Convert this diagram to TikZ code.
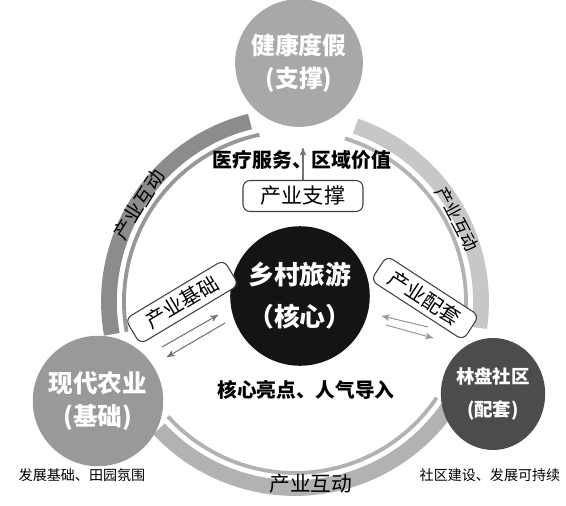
\documentclass[tikz,border=0pt]{standalone}
\usepackage{fontspec}
\setmainfont{Noto Sans CJK SC}
\usepackage{tikz}
\usetikzlibrary{calc,arrows,shapes.geometric}

\definecolor{healthgray}{gray}{0.66}
\definecolor{farmgray}{gray}{0.60}
\definecolor{forestgray}{gray}{0.30}
\definecolor{leftband}{gray}{0.55}
\definecolor{rightband}{gray}{0.78}
\definecolor{bottomband}{gray}{0.70}

\begin{document}
\begin{tikzpicture}[
        x=0.02cm, y=0.02cm,
        band/.style={line width=9pt},
        ring line/.style={line width=2.2pt},
        flow/.style={->, >=stealth', color=black!55, line width=0.6pt},
        hub/.style={circle, fill=black!92, text=white, minimum size=2.36cm,
          align=center, font={\fontsize{14.7}{24}\selectfont\bfseries}},
        pole/.style={circle, text=white, align=center,
          font={\fontsize{13.6}{18.7}\selectfont\bfseries}},
        tagbox/.style={draw=black!75, fill=white, rounded corners=4pt,
          line width=0.6pt, inner sep=3pt, font={\fontsize{12}{14}\selectfont}},
        band label/.style={font={\fontsize{11}{13}\selectfont}},
        bold label/.style={font={\fontsize{11.3}{13}\selectfont\bfseries}},
        note/.style={font={\fontsize{8}{10}\selectfont}},
        every node/.style={color=black,}
      ]
      \useasboundingbox (0,0) rectangle (566,505);
      \coordinate (ring) at (295,203);

      \draw[band, leftband] ([shift={(ring)}]104:186) arc (104:190:186);
      \draw[ring line, leftband!90] ([shift={(ring)}]102:171) arc (102:190:171);
      \draw[band, rightband] ([shift={(ring)}]71:186) arc (71:-8:186);
      \draw[ring line, rightband!90!black] ([shift={(ring)}]73:171) arc (73:-10:171);
      \draw[band, bottomband] ([shift={(ring)}]223:186) arc (223:325:186);
      \draw[ring line, bottomband] ([shift={(ring)}]222:171) arc (222:326:171);

      \node[band label, rotate=58] (linkleft) at ($(ring)+(148:184)$) {产业互动};
      \node[band label, rotate=-62, font={\fontsize{10}{12}\selectfont}] (linkright) at ($(ring)+(27:182)$) {产业互动};
      \node[band label, font={\fontsize{11.8}{13}\selectfont}] (linkbottom) at ($(ring)+(-85:182)$) {产业互动};

      \node[pole, fill=healthgray, minimum size=2.28cm] (health) at (299,442) {健康度假\\(支撑)};
      \node[pole, fill=farmgray, minimum size=2.2cm, font={\fontsize{14}{18.7}\selectfont\bfseries}] (farm) at (98,104) {现代农业\\(基础)};
      \node[pole, ellipse, fill=forestgray, minimum width=1.6cm, minimum height=2.24cm,
        inner sep=0pt, font={\fontsize{10.5}{19}\selectfont\bfseries}] (forest) at (493,111) {林盘社区\\(配套)};
      \node[hub] (core) at (300,209) {乡村旅游\\（核心）};

      \node[bold label] (healthtext) at (302,345) {医疗服务、区域价值};
      \node[tagbox, minimum width=2.4cm, minimum height=0.62cm] (support) at (303,309) {产业支撑};
      \coordinate (supporttip) at (303,357);
      \draw[flow] (support.north) -- (supporttip);

      \node[tagbox, rotate=31, minimum width=2.3cm, minimum height=0.5cm, font={\fontsize{11.5}{13}\selectfont}] (base) at (182,203) {产业基础};
      \coordinate (baseinA) at (162,158);
      \coordinate (baseinB) at (218,190);
      \coordinate (baseoutA) at (225,182);
      \coordinate (baseoutB) at (167,148);
      \draw[flow] (baseinA) -- (baseinB);
      \draw[flow] (baseoutA) -- (baseoutB);

      \node[tagbox, rotate=-33, minimum width=2.2cm, minimum height=0.5cm, font={\fontsize{11.5}{13}\selectfont}] (match) at (425,207) {产业配套};
      \coordinate (matchinA) at (428,178);
      \coordinate (matchinB) at (382,189);
      \coordinate (matchoutA) at (386,180);
      \coordinate (matchoutB) at (433,167);
      \draw[flow, color=black!40] (matchinA) -- (matchinB);
      \draw[flow, color=black!40] (matchoutA) -- (matchoutB);

      \node[bold label, font={\fontsize{11.2}{13}\selectfont\bfseries}] (highlight) at (306,115) {核心亮点、人气导入};
      \node[note] (farmnote) at (82,30) {发展基础、田园氛围};
      \node[note] (forestnote) at (490,30) {社区建设、发展可持续};
      \end{tikzpicture}
\end{document}
